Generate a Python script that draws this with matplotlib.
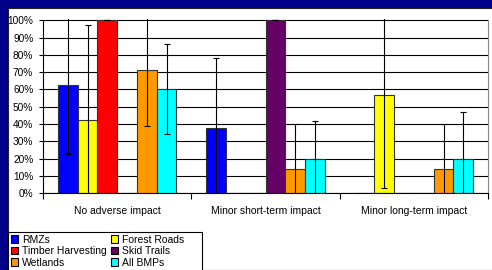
import numpy as np
import matplotlib.pyplot as plt
from matplotlib.patches import Rectangle, Patch

plt.rcParams['font.family'] = ['Liberation Sans', 'DejaVu Sans']

categories = ['No adverse impact', 'Minor short-term impact', 'Minor long-term impact']
series = ['RMZs', 'Forest Roads', 'Timber Harvesting', 'Skid Trails', 'Wetlands', 'All BMPs']
colors = ['#0000FF', '#FFFF00', '#FF0000', '#660066', '#FF9900', '#00FFFF']

# fraction of responses per series, per category
values = {
    'RMZs':              [0.625, 0.375, 0.0],
    'Forest Roads':      [0.425, 0.0, 0.57],
    'Timber Harvesting': [1.0, 0.0, 0.0],
    'Skid Trails':       [0.0, 1.0, 0.0],
    'Wetlands':          [0.714, 0.143, 0.143],
    'All BMPs':          [0.60, 0.20, 0.20],
}
errors = {
    'RMZs':              [0.40, 0.405, 0.0],
    'Forest Roads':      [0.545, 0.0, 0.54],
    'Timber Harvesting': [0.0, 0.0, 0.0],
    'Skid Trails':       [0.0, 0.0, 0.0],
    'Wetlands':          [0.325, 0.255, 0.255],
    'All BMPs':          [0.26, 0.22, 0.27],
}

W, H = 492, 270
fig = plt.figure(figsize=(W / 100, H / 100), dpi=100, facecolor='#00008B')
# white chart area inside the slide background
fig.patches.append(Rectangle((8 / W, 0), 1, 1 - 8 / H, transform=fig.transFigure,
                             facecolor='white', edgecolor='#222222', lw=0.8, zorder=-2))

ax = fig.add_axes([43 / W, 76.7 / H, 445 / W, (193.3 - 18.5) / H])
ax.set_facecolor('white')

x = np.arange(len(categories))
bw = 1 / 7.5
for i, s in enumerate(series):
    pos = x - 2.5 * bw + i * bw
    v = np.array(values[s])
    e = np.array(errors[s])
    ax.bar(pos, v, bw, color=colors[i], edgecolor='#333333', linewidth=0.8, zorder=2)
    m = (v > 0)
    ax.errorbar(pos[m], v[m], yerr=e[m], fmt='none', ecolor='black',
                elinewidth=0.8, capsize=2.5, capthick=0.8, zorder=3)

ax.set_xlim(-0.5, 2.5)
ax.set_ylim(0, 1.01)
ax.set_yticks(np.arange(0, 1.01, 0.1))
ax.set_yticklabels(['%d%%' % round(t * 100) for t in np.arange(0, 1.01, 0.1)])
ax.yaxis.grid(True, color='black', linewidth=0.8, zorder=1)
ax.set_axisbelow(True)

ax.set_xticks(x)
ax.set_xticklabels(categories)
ax.set_xticks([-0.5, 0.5, 1.5, 2.5], minor=True)
ax.tick_params(axis='x', which='major', length=0, pad=9, labelsize=7.5)
ax.tick_params(axis='x', which='minor', length=4, width=0.8, direction='out')
ax.tick_params(axis='y', length=3, width=0.8, pad=4, labelsize=7.3)

ax.spines['top'].set_visible(False)
ax.spines['right'].set_color('#888888')
ax.spines['right'].set_bounds(0, 1.0)
ax.spines['left'].set_bounds(0, 1.0)
ax.spines['left'].set_linewidth(0.8)
ax.spines['bottom'].set_linewidth(0.8)

# legend frame drawn separately so it can be wider than its entries
fig.patches.append(Rectangle((8 / W, -0.05), 194 / W, 0.05 + 1 - 232 / H,
                             transform=fig.transFigure, facecolor='white',
                             edgecolor='black', lw=0.8, zorder=-1))
handles = [Patch(facecolor=c, edgecolor='black', linewidth=0.8) for c in colors]
order = [0, 2, 4, 1, 3, 5]
leg = fig.legend([handles[k] for k in order], [series[k] for k in order],
                 ncol=2, loc='upper left', bbox_to_anchor=(8 / W, 1 - 232 / H),
                 borderaxespad=0, fontsize=7.5, frameon=False,
                 handlelength=0.7, handleheight=0.7, handletextpad=0.4,
                 columnspacing=0.4, labelspacing=0.15, borderpad=0.25)

fig.savefig('out.png', dpi=100, facecolor=fig.get_facecolor())
